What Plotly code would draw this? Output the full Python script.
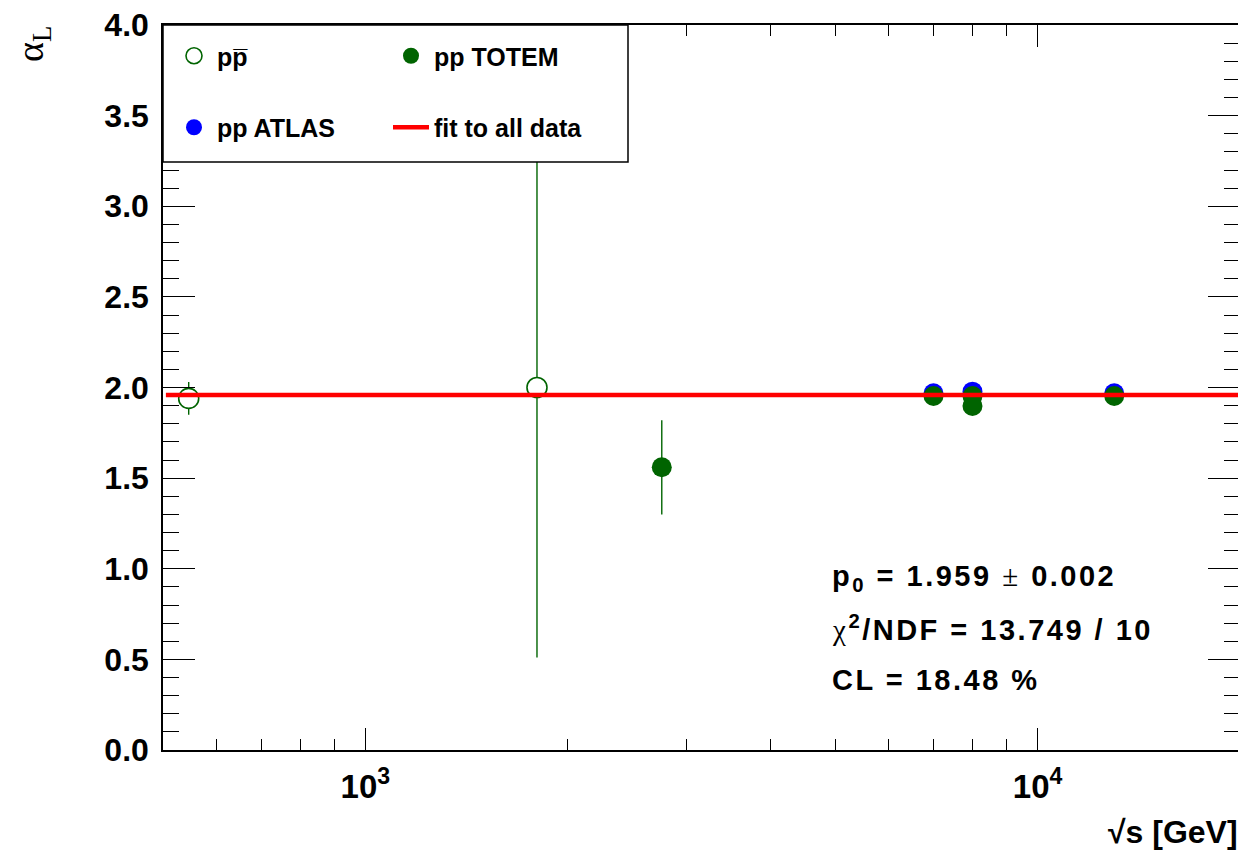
import plotly.graph_objects as go

# ---- data ----
ppbar_x = [546, 1800]
ppbar_y = [1.94, 2.00]
ppbar_err = [0.09, 1.49]

atlas_x = [7000, 8000, 13000]
atlas_y = [1.968, 1.977, 1.968]
atlas_err = [0.012, 0.012, 0.012]

totem_x = [2760, 7000, 8000, 8000, 13000]
totem_y = [1.56, 1.953, 1.953, 1.898, 1.953]
totem_err = [0.26, 0.012, 0.012, 0.012, 0.012]

fit_p0 = 1.959
fit_range = [505, 20000]

x_major_vals = [1000, 10000]
x_major_text = ["10<sup>3</sup>", "10<sup>4</sup>"]
x_minor_vals = [600, 700, 800, 900, 2000, 3000, 4000, 5000, 6000, 7000, 8000, 9000, 20000]

SERIF = "<span style='font-family:Liberation Serif;font-weight:normal'>{}</span>"
stats_lines = [
    "p<sub>0</sub> = 1.959 " + SERIF.format("±") + " 0.002",
    SERIF.format("χ") + "<sup>2</sup>/NDF = 13.749 / 10",
    "CL = 18.48 %",
]

GREEN = "#006400"
BLUE = "#0000ff"
RED = "#ff0000"
FONT = "Liberation Sans"

OFF = 8  # page body margin
W, H = 1246 - OFF, 852 - OFF
# plot area in reference pixels: x 163..1240, y 25..750
L, T = 163 - OFF, 25 - OFF
R = W - (1240 - OFF)
B = H - (750 - OFF)
pw = W - L - R
ph = H - T - B

def px_x(p):
    return (p - OFF - L) / pw

def px_y(p):
    return (H - B - (p - OFF)) / ph

fig = go.Figure()

fig.add_trace(go.Scatter(
    x=ppbar_x, y=ppbar_y, mode="markers", name="pp\u0305",
    marker=dict(symbol="circle", size=20, color="white", line=dict(color=GREEN, width=1.6)),
    error_y=dict(type="data", array=ppbar_err, color=GREEN, thickness=1.4, width=0),
    legend="legend", legendrank=1, legendgroup="a",
))
fig.add_trace(go.Scatter(
    x=atlas_x, y=atlas_y, mode="markers", name="pp ATLAS",
    marker=dict(symbol="circle", size=20, color=BLUE, line=dict(width=0)),
    error_y=dict(type="data", array=atlas_err, color=BLUE, thickness=1.4, width=0),
    legend="legend", legendrank=2, legendgroup="b",
))
fig.add_trace(go.Scatter(
    x=totem_x, y=totem_y, mode="markers", name="pp TOTEM",
    marker=dict(symbol="circle", size=20, color=GREEN, line=dict(width=0)),
    error_y=dict(type="data", array=totem_err, color=GREEN, thickness=1.4, width=0),
    legend="legend2", legendrank=1, legendgroup="c",
))
fig.add_trace(go.Scatter(
    x=fit_range, y=[fit_p0, fit_p0], mode="lines", name="fit to all data",
    line=dict(color=RED, width=4.5),
    legend="legend2", legendrank=2, legendgroup="d",
))

# legend frame (white filled box)
fig.add_shape(type="rect", xref="paper", yref="paper",
              x0=0, x1=px_x(628), y0=px_y(162), y1=1,
              line=dict(color="black", width=1.5), fillcolor="white", layer="above")

legend_common = dict(
    bgcolor="rgba(0,0,0,0)", borderwidth=0,
    font=dict(family=FONT, size=25, color="black", weight="bold"),
    tracegroupgap=36, itemsizing="trace", itemwidth=36,
    xanchor="left", yanchor="top", orientation="v",
)

for i, txt in enumerate(stats_lines):
    fig.add_annotation(
        xref="paper", yref="paper", x=px_x(830), y=px_y([578, 628, 680][i]),
        xanchor="left", yanchor="middle", showarrow=False,
        text="<span style='letter-spacing:2.5px'>" + txt + "</span>",
        font=dict(family=FONT, size=29, color="black", weight="bold"),
    )

# y-axis title
fig.add_annotation(
    xref="paper", yref="paper", x=px_x(33), y=px_y(44),
    xanchor="center", yanchor="middle", showarrow=False, textangle=-90,
    text="α<sub>L</sub>",
    font=dict(family="Liberation Serif", size=38, color="black"),
)
# x-axis title
fig.add_annotation(
    xref="paper", yref="paper", x=1, y=px_y(832),
    xanchor="right", yanchor="middle", showarrow=False,
    text="√s [GeV]",
    font=dict(family=FONT, size=32, color="black", weight="bold"),
)

fig.update_layout(
    width=W, height=H,
    margin=dict(l=L, r=R, t=T, b=B, autoexpand=False),
    paper_bgcolor="white", plot_bgcolor="white",
    legend=dict(x=px_x(171), y=px_y(33), **legend_common),
    legend2=dict(x=px_x(388), y=px_y(33), **legend_common),
    xaxis=dict(
        type="log", range=[2.69897, 4.30103], automargin=False,
        showgrid=False, zeroline=False,
        showline=True, linecolor="black", linewidth=1.5, mirror="ticks",
        ticks="inside", ticklen=22, tickwidth=1.2, tickcolor="black",
        tickmode="array", tickvals=x_major_vals, ticktext=x_major_text,
        tickfont=dict(family=FONT, size=33, color="black", weight="bold"),
        ticklabelstandoff=7, ticklabeloverflow="allow",
        minor=dict(tickmode="array", tickvals=x_minor_vals, ticks="inside",
                   ticklen=11, tickwidth=1.2, tickcolor="black", showgrid=False),
    ),
    yaxis=dict(
        range=[0, 4.0], automargin=False, showgrid=False, zeroline=False,
        showline=True, linecolor="black", linewidth=1.5, mirror="ticks",
        ticks="inside", ticklen=32, tickwidth=1.2, tickcolor="black",
        tickmode="linear", tick0=0, dtick=0.5, tickformat=".1f",
        tickfont=dict(family=FONT, size=32, color="black", weight="bold"),
        ticklabelstandoff=6, ticklabeloverflow="allow",
        minor=dict(dtick=0.1, ticks="inside", ticklen=16, tickwidth=1.2,
                   tickcolor="black", showgrid=False),
    ),
)

fig.write_html("out.html")
